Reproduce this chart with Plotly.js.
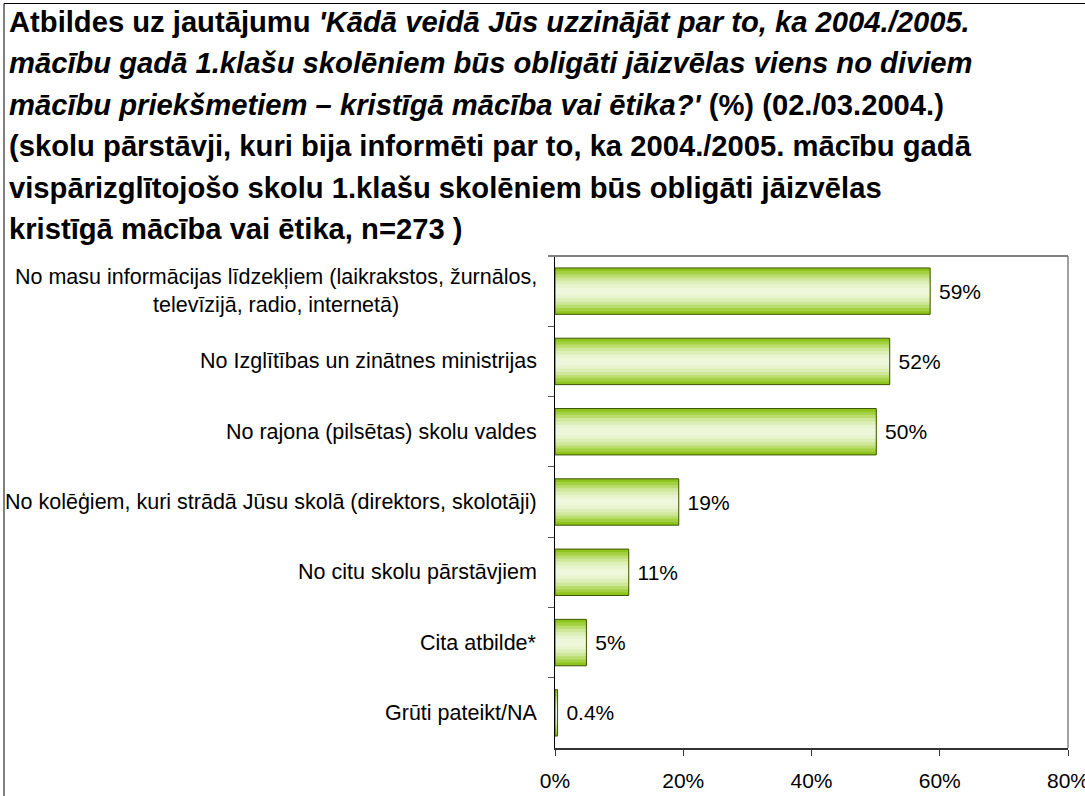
<!DOCTYPE html>
<html><head><meta charset="utf-8">
<script src="https://cdn.plot.ly/plotly-3.0.1.min.js"></script>
<style>html,body{margin:0;padding:0;background:#fff}#chart{width:1085px;height:796px}</style>
</head><body><div id="chart"></div>
<script>
// ---- data ----
const categories = [
  "No masu informācijas līdzekļiem (laikrakstos, žurnālos,<br>televīzijā, radio, internetā)",
  "No Izglītības un zinātnes ministrijas",
  "No rajona (pilsētas) skolu valdes",
  "No kolēģiem, kuri strādā Jūsu skolā (direktors, skolotāji)",
  "No citu skolu pārstāvjiem",
  "Cita atbilde*",
  "Grūti pateikt/NA"
];
const values = [58.5, 52.2, 50.1, 19.3, 11.5, 4.9, 0.4];
const valueLabels = ["59%", "52%", "50%", "19%", "11%", "5%", "0.4%"];
const xTickVals = [0, 20, 40, 60, 80];
const xTickText = ["0%", "20%", "40%", "60%", "80%"];
const titleLines = [
  "Atbildes uz jautājumu <i>'Kādā veidā Jūs uzzinājāt par to, ka 2004./2005.</i>",
  "<i>mācību gadā 1.klašu skolēniem būs obligāti jāizvēlas viens no diviem</i>",
  "<i>mācību priekšmetiem – kristīgā mācība vai ētika?'</i> (%) (02./03.2004.)",
  "(skolu pārstāvji, kuri bija informēti par to, ka 2004./2005. mācību gadā",
  "vispārizglītojošo skolu 1.klašu skolēniem būs obligāti jāizvēlas",
  "kristīgā mācība vai ētika, n=273 )"
];

// ---- layout geometry ----
const W = 1085, H = 796, L = 555, R = 17, T = 256, B = 48;
const PW = W - L - R, PH = H - T - B;
const px = x => (x - L) / PW;
const py = y => (H - B - y) / PH;
const FONT = "Liberation Sans, Arial, sans-serif";

// gradient approximation: stacked overlay bands, widest first
const bands = [
  {w: 0.66, c: "#8fc41c"},
  {w: 0.57, c: "#a3d143"},
  {w: 0.48, c: "#badd6e"},
  {w: 0.39, c: "#cee798"},
  {w: 0.30, c: "#ddeeb6"},
  {w: 0.20, c: "#e8f4cd"},
  {w: 0.10, c: "#eef7da"}
];
const traces = bands.map(b => ({
  type: "bar", orientation: "h", x: values, y: categories,
  width: b.w, marker: {color: b.c, line: {width: 0}},
  hoverinfo: "skip", showlegend: false
}));
traces.push({
  type: "bar", orientation: "h", x: values, y: categories, width: 0.66,
  marker: {color: "rgba(0,0,0,0)", line: {color: "#3b5500", width: 1}},
  text: valueLabels, texttemplate: " %{text}", textposition: "outside", cliponaxis: false,
  textfont: {family: FONT, size: 21, color: "#000"},
  hoverinfo: "x+y", showlegend: false
});

const annotations = [];
const titleY = [22, 63.5, 105, 146.5, 188, 229.5];
titleLines.forEach((t, i) => annotations.push({
  xref: "paper", yref: "paper", x: px(7), y: py(titleY[i]),
  xanchor: "left", yanchor: "middle", showarrow: false,
  text: "<b>" + t + "</b>", font: {family: FONT, size: 29.2, color: "#000"}
}));
categories.forEach(c => annotations.push({
  xref: "paper", yref: "y", x: 0, y: c, xshift: -16,
  xanchor: "right", yanchor: "middle", align: "center", showarrow: false,
  text: c, font: {family: FONT, size: 21.5, color: "#000"}
}));

const layout = {
  width: W, height: H,
  margin: {l: L, r: R, t: T, b: B, pad: 0},
  paper_bgcolor: "#fff", plot_bgcolor: "#fff",
  barmode: "overlay", showlegend: false,
  font: {family: FONT, size: 21, color: "#000"},
  xaxis: {
    range: [0, 80], tickvals: xTickVals, ticktext: xTickText,
    ticks: "outside", ticklen: 6, tickcolor: "#333", tickwidth: 1,
    showline: true, linecolor: "#333", linewidth: 2,
    showgrid: false, zeroline: false, ticklabelstandoff: 7,
    ticklabeloverflow: "allow",
    tickfont: {family: FONT, size: 21, color: "#000"}, fixedrange: true
  },
  yaxis: {
    type: "category", autorange: "reversed", tickson: "boundaries",
    ticks: "outside", ticklen: 6, tickcolor: "#555", tickwidth: 1,
    showline: true, linecolor: "#000", linewidth: 1,
    showgrid: false, zeroline: false, showticklabels: false, fixedrange: true
  },
  shapes: [
    {type: "line", xref: "paper", yref: "paper", x0: px(548), x1: 1, y0: 1, y1: 1,
     line: {color: "#808080", width: 2}},
    {type: "line", xref: "paper", yref: "paper", x0: 1, x1: 1, y0: 0, y1: 1,
     line: {color: "#808080", width: 1.5}},
    {type: "rect", xref: "paper", yref: "paper", x0: px(4), x1: px(1100), y0: py(811), y1: py(3.5),
     line: {color: "#000", width: 1}, fillcolor: "rgba(0,0,0,0)"}
  ],
  annotations: annotations
};

Plotly.newPlot("chart", traces, layout, {displayModeBar: false, staticPlot: true});
</script>
</body></html>
